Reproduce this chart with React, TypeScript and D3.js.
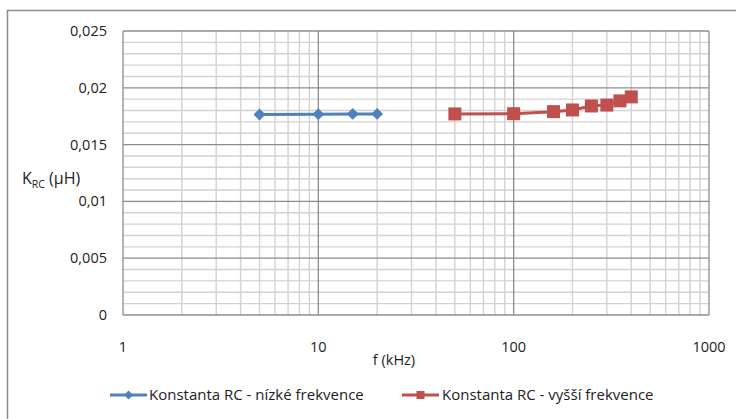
import * as d3 from 'd3';

const lowFreq = [5, 10, 15, 20];
const lowK = [0.01765, 0.01768, 0.0177, 0.0177];
const highFreq = [50, 100, 160, 200, 250, 300, 350, 400];
const highK = [0.0177, 0.01772, 0.0179, 0.01805, 0.0184, 0.01848, 0.01885, 0.0192];
const yTicks = [0, 0.005, 0.01, 0.015, 0.02, 0.025];
const xTicks = [1, 10, 100, 1000];
const seriesNames = ['Konstanta RC - nízké frekvence', 'Konstanta RC - vyšší frekvence'];

const [W, H] = [736, 419];
const plot = { left: 123, top: 31, right: 709, bottom: 315 };
const font = "'Open Sans', sans-serif";
const blue = '#4F81BD';
const red = '#C0504D';

export default function App() {
  const x = d3.scaleLog().domain([1, 1000]).range([plot.left, plot.right]);
  const y = d3.scaleLinear().domain([0, 0.025]).range([plot.bottom, plot.top]);

  const minorX: number[] = [];
  [1, 10, 100].forEach(dec => {
    for (let k = 2; k <= 9; k++) minorX.push(dec * k);
  });
  const minorY = d3.range(0, 0.0251, 0.001).filter(v => Math.round(v * 1000) % 5 !== 0);

  const line = d3.line<[number, number]>().x(d => x(d[0])).y(d => y(d[1]));
  const lowPts = lowFreq.map((f, i) => [f, lowK[i]] as [number, number]);
  const highPts = highFreq.map((f, i) => [f, highK[i]] as [number, number]);
  const diamond = d3.symbol().type(d3.symbolDiamond2).size(90)()!;
  const fmt = (v: number) => (v === 0 ? '0' : d3.format('.3~f')(v).replace('.', ','));

  return (
    <svg width={W} height={H} style={{ position: 'absolute', left: 0, top: 0, background: '#fff' }}>
      <rect x={7.5} y={10.5} width={760} height={440} fill="#fff" stroke="#8c8c8c" strokeWidth={1.5} />

      {minorY.map(v => (
        <line key={'my' + v} x1={plot.left} x2={plot.right} y1={y(v)} y2={y(v)} stroke="#d2d2d2" strokeWidth={1.4} />
      ))}
      {minorX.map(v => (
        <line key={'mx' + v} x1={x(v)} x2={x(v)} y1={plot.top} y2={plot.bottom} stroke="#d2d2d2" strokeWidth={1.4} />
      ))}
      {yTicks.map(v => (
        <line key={'gy' + v} x1={plot.left} x2={plot.right} y1={y(v)} y2={y(v)} stroke="#8c8c8c" strokeWidth={1.3} />
      ))}
      {xTicks.map(v => (
        <line key={'gx' + v} x1={x(v)} x2={x(v)} y1={plot.top} y2={plot.bottom} stroke="#8c8c8c" strokeWidth={1.3} />
      ))}

      {yTicks.map(v => (
        <text key={'ty' + v} x={107} y={y(v)} dy="0.35em" textAnchor="end" fontFamily={font} fontSize={14.5} fill="#222">
          {fmt(v)}
        </text>
      ))}
      {xTicks.map(v => (
        <text key={'tx' + v} x={x(v)} y={347} dy="0.35em" textAnchor="middle" fontFamily={font} fontSize={14.5} fill="#222">
          {v}
        </text>
      ))}

      <text x={394} y={360} dy="0.35em" textAnchor="middle" fontFamily={font} fontSize={14.5} fill="#222">f (kHz)</text>
      <text x={22} y={178} dy="0.35em" fontFamily={font} fontSize={16} fill="#222">
        K<tspan fontSize={10.5} dy="4">RC</tspan><tspan dy="-4"> (µH)</tspan>
      </text>

      <path d={line(lowPts)!} fill="none" stroke={blue} strokeWidth={3} />
      {lowPts.map((p, i) => (
        <path key={'d' + i} d={diamond} transform={`translate(${x(p[0])},${y(p[1])})`} fill={blue} />
      ))}
      <path d={line(highPts)!} fill="none" stroke={red} strokeWidth={3} />
      {highPts.map((p, i) => (
        <rect key={'s' + i} x={x(p[0]) - 6.5} y={y(p[1]) - 6.5} width={13} height={13} fill={red} />
      ))}

      <g transform="translate(110,395)">
        <line x1={0} x2={37} y1={0} y2={0} stroke={blue} strokeWidth={3} />
        <path d={d3.symbol().type(d3.symbolDiamond2).size(50)()!} transform="translate(18.5,0)" fill={blue} />
        <text x={39} y={0} dy="0.35em" fontFamily={font} fontSize={15} fill="#222">{seriesNames[0]}</text>
      </g>
      <g transform="translate(402,395)">
        <line x1={0} x2={37} y1={0} y2={0} stroke={red} strokeWidth={3} />
        <rect x={14.5} y={-4} width={8} height={8} fill={red} />
        <text x={40} y={0} dy="0.35em" fontFamily={font} fontSize={15} fill="#222">{seriesNames[1]}</text>
      </g>
    </svg>
  );
}
